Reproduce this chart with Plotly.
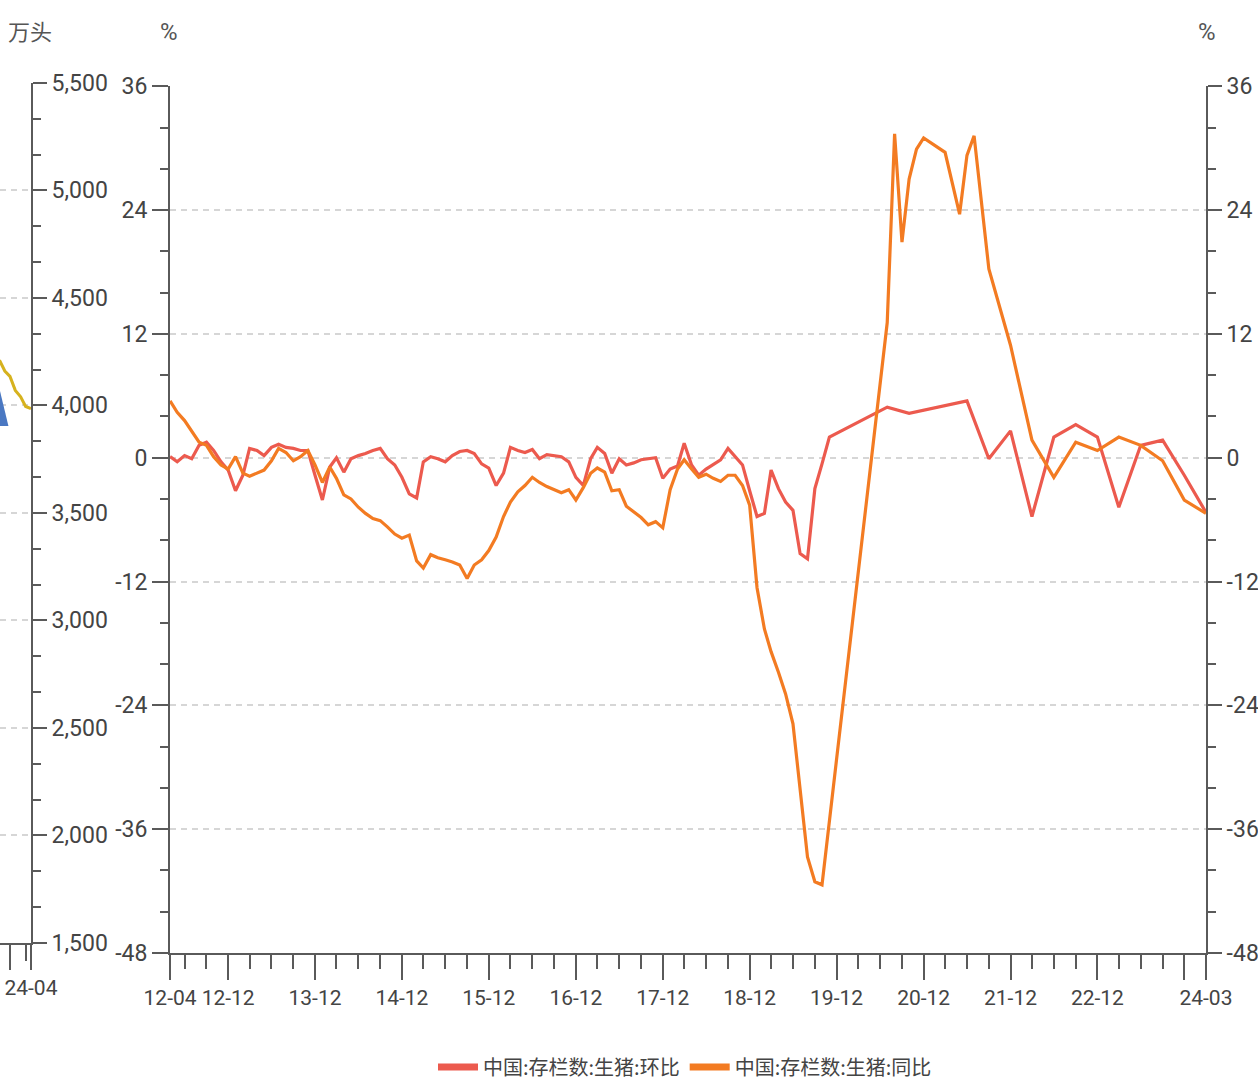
import pandas as pd
import plotly.graph_objects as go

# ---- data -------------------------------------------------------------
# month-on-month change of hog inventory (%), monthly from 2012-04 to 2019-11
hb_monthly = [
    0.1, -0.4, 0.2, -0.1, 1.2, 1.5, 0.7, -0.4, -1.2, -3.2,
    -1.7, 0.9, 0.7, 0.2, 1.0, 1.3, 1.0, 0.9, 0.7, 0.7,
    -1.7, -4.1, -0.9, 0.0, -1.4, -0.1, 0.2, 0.4, 0.7, 0.9,
    -0.1, -0.7, -1.9, -3.5, -3.9, -0.4, 0.1, -0.1, -0.4, 0.2,
    0.6, 0.7, 0.4, -0.6, -1.0, -2.7, -1.5, 1.0, 0.7, 0.5,
    0.8, -0.1, 0.3, 0.2, 0.1, -0.4, -1.9, -2.7, -0.1, 1.0,
    0.4, -1.5, -0.1, -0.7, -0.5, -0.2, -0.1, 0.0, -2.0, -1.1,
    -0.8, 1.4, -0.7, -1.7, -1.1, -0.7, -0.2, 0.9, 0.1, -0.7,
    -3.2, -5.7, -5.4, -1.2, -3.0, -4.3, -5.1, -9.3, -9.8, -3.0,
    -0.6, 2.0,
]
hb_later_months = ["2020-07", "2020-10", "2021-06", "2021-09", "2021-12",
                   "2022-03", "2022-06", "2022-09", "2022-12", "2023-03",
                   "2023-06", "2023-09", "2023-12", "2024-03"]
hb_later_vals = [4.9, 4.3, 5.5, -0.1, 2.6, -5.7, 2.0, 3.2, 2.0, -4.8,
                 1.2, 1.7, -1.7, -5.3]

# year-on-year change of hog inventory (%), monthly from 2012-04 to 2019-10
tb_monthly = [
    5.5, 4.4, 3.6, 2.5, 1.5, 1.2, 0.1, -0.7, -1.1, 0.1,
    -1.5, -1.8, -1.5, -1.2, -0.3, 0.9, 0.5, -0.3, 0.1, 0.7,
    -0.7, -2.4, -0.9, -2.0, -3.6, -4.0, -4.8, -5.4, -5.9, -6.1,
    -6.7, -7.4, -7.8, -7.5, -10.0, -10.7, -9.4, -9.7, -9.9, -10.1,
    -10.4, -11.7, -10.4, -9.9, -9.0, -7.7, -5.7, -4.3, -3.3, -2.7,
    -1.9, -2.4, -2.8, -3.1, -3.4, -3.1, -4.1, -2.9, -1.5, -1.0,
    -1.4, -3.2, -3.1, -4.7, -5.3, -5.8, -6.5, -6.2, -6.8, -3.1,
    -1.1, -0.2, -1.1, -1.9, -1.6, -2.0, -2.3, -1.7, -1.7, -2.7,
    -4.6, -12.6, -16.6, -18.8, -20.8, -22.9, -25.8, -32.3, -38.7, -41.1,
    -41.4,
]
tb_later_months = ["2020-07", "2020-08", "2020-09", "2020-10", "2020-11",
                   "2020-12", "2021-03", "2021-05", "2021-06", "2021-07",
                   "2021-09", "2021-12", "2022-03", "2022-06", "2022-09",
                   "2022-12", "2023-03", "2023-06", "2023-09", "2023-12",
                   "2024-03"]
tb_later_vals = [13.1, 31.4, 20.9, 27.0, 29.9, 31.0, 29.6, 23.6, 29.3, 31.2,
                 18.3, 10.9, 1.7, -1.9, 1.5, 0.7, 2.0, 1.2, -0.3, -4.1,
                 -5.4]

# neighbouring panel: breeding sow inventory (万头), tail end
sow_months = ["2023-10", "2023-11", "2023-12", "2024-01", "2024-02",
              "2024-03", "2024-04"]
sow_vals = [4210, 4160, 4135, 4070, 4040, 3995, 3985]

# blue pointer in the neighbouring panel (dates, 万头)
pointer_dates = ["2023-09-30", "2023-11-22", "2023-08-18", "2023-09-30"]
pointer_vals = [4080, 3904, 3904, 4080]

# tick labels
x_major_dates = ["2012-04"] + [f"{y}-12" for y in range(2012, 2024)] + ["2024-03"]
x_major_text = ["12-04"] + [f"{y % 100:02d}-12" for y in range(2012, 2023)] + ["", "24-03"]
y_ticks = [36, 24, 12, 0, -12, -24, -36, -48]
y_tick_text = ["36", "24", "12", "0", "-12", "-24", "-36", "-48"]
sow_ticks = [5500, 5000, 4500, 4000, 3500, 3000, 2500, 2000, 1500]

# ---- helpers ----------------------------------------------------------
def mdate(s):
    return pd.Timestamp(s + "-01")

start = pd.Timestamp("2012-04-01")
hb_x = [start + pd.DateOffset(months=i) for i in range(len(hb_monthly))] + [mdate(m) for m in hb_later_months]
hb_y = hb_monthly + hb_later_vals
tb_x = [start + pd.DateOffset(months=i) for i in range(len(tb_monthly))] + [mdate(m) for m in tb_later_months]
tb_y = tb_monthly + tb_later_vals

x_minor = [mdate(f"{y}-{m:02d}") for y in range(2012, 2024) for m in (3, 6, 9)
           if mdate(f"{y}-{m:02d}") > start]

RED = "#EC5A4E"
ORANGE = "#F37B22"
AX = "#5a5a5a"
GRID = "#d6d6d6"
NUM_FAMILY = "Roboto, sans-serif"
NUM_FONT = dict(family=NUM_FAMILY, size=23, color="#444444")
X_FONT = dict(family=NUM_FAMILY, size=21, color="#444444")
CJK = "Noto Sans CJK SC, sans-serif"

W, H = 1258, 1087
def px(x):
    return x / W
def py(y):
    return 1 - y / H

fig = go.Figure()

fig.add_trace(go.Scatter(x=hb_x, y=hb_y, mode="lines", line=dict(color=RED, width=3.2),
                         showlegend=False, xaxis="x", yaxis="y"))
fig.add_trace(go.Scatter(x=tb_x, y=tb_y, mode="lines", line=dict(color=ORANGE, width=3.2),
                         showlegend=False, xaxis="x", yaxis="y2"))
# legend entries
fig.add_trace(go.Scatter(x=[None], y=[None], mode="lines", line=dict(color=RED, width=7),
                         name="中国:存栏数:生猪:环比", xaxis="x", yaxis="y"))
fig.add_trace(go.Scatter(x=[None], y=[None], mode="lines", line=dict(color=ORANGE, width=7),
                         name="中国:存栏数:生猪:同比", xaxis="x", yaxis="y"))

# neighbouring panel
fig.add_trace(go.Scatter(x=[mdate(m) for m in sow_months], y=sow_vals, mode="lines",
                         line=dict(color="#D6B21E", width=3), showlegend=False,
                         xaxis="x2", yaxis="y3"))
fig.add_trace(go.Scatter(x=pointer_dates, y=pointer_vals, mode="lines", fill="toself",
                         fillcolor="#4A78C2", line=dict(color="#4A78C2", width=0),
                         showlegend=False, xaxis="x2", yaxis="y3"))

axis_common = dict(showline=True, linecolor=AX, linewidth=2, ticks="outside",
                   tickcolor=AX, tickwidth=2, automargin=False)

fig.update_layout(
    width=W, height=H,
    margin=dict(l=0, r=0, t=0, b=0),
    plot_bgcolor="white", paper_bgcolor="white",
    xaxis=dict(domain=[px(170), px(1206)], anchor="y", type="date",
               range=["2012-03-31 18:00", "2024-03-01 06:00"],
               tickmode="array", tickvals=[mdate(d) for d in x_major_dates],
               ticktext=x_major_text, tickangle=0, ticklen=25, tickfont=X_FONT,
               showgrid=False, zeroline=False,
               minor=dict(tickmode="array", tickvals=x_minor, ticklen=14,
                          ticks="outside", tickcolor=AX, tickwidth=2, showgrid=False),
               **axis_common),
    yaxis=dict(domain=[py(957.3), py(86.7)], anchor="x", range=[-48, 36],
               tickmode="array", tickvals=y_ticks, ticktext=y_tick_text, ticklen=16,
               tickfont=NUM_FONT,
               showgrid=True, gridcolor=GRID, gridwidth=2, griddash="6px,5px",
               zeroline=False,
               minor=dict(dtick=4, tick0=0, ticklen=8, ticks="outside",
                          tickcolor=AX, tickwidth=2, showgrid=False),
               **axis_common),
    yaxis2=dict(overlaying="y", side="right", anchor="x", range=[-48, 36],
                tickmode="array", tickvals=y_ticks, ticktext=y_tick_text, ticklen=14,
                tickfont=NUM_FONT,
                showgrid=False, zeroline=False,
                minor=dict(dtick=4, tick0=0, ticklen=8, ticks="outside",
                           tickcolor=AX, tickwidth=2, showgrid=False),
                **axis_common),
    xaxis2=dict(domain=[0, px(31)], anchor="y3", type="date",
                range=["2023-10-04", "2024-04-01 06:00"],
                tickmode="array", tickvals=["2023-12-01", "2024-04-01"],
                ticktext=["", "24-04"], tickangle=0, ticklen=25, tickfont=X_FONT,
                showgrid=False, zeroline=False,
                minor=dict(tickmode="array", tickvals=["2024-03-01"], ticklen=16,
                           ticks="outside", tickcolor=AX, tickwidth=2, showgrid=False),
                **axis_common),
    yaxis3=dict(domain=[py(947.3), py(83.3)], anchor="x2", side="right",
                range=[1500, 5500], tickmode="array", tickvals=sow_ticks,
                tickformat=",d", ticklen=14, tickfont=NUM_FONT,
                showgrid=True, gridcolor=GRID, gridwidth=2, griddash="6px,5px",
                zeroline=False,
                minor=dict(dtick=500 / 3, tick0=1500, ticklen=8, ticks="outside",
                           tickcolor=AX, tickwidth=2, showgrid=False),
                **axis_common),
    legend=dict(orientation="h", x=px(685), xanchor="center", y=py(1072), yanchor="middle",
                font=dict(family=CJK, size=20, color="#444444"), itemwidth=40,
                bgcolor="rgba(0,0,0,0)"),
    annotations=[
        dict(text="万头", x=px(30), y=py(30), xref="paper", yref="paper", showarrow=False,
             xanchor="center", yanchor="middle",
             font=dict(family=CJK, size=22, color="#555555")),
        dict(text="%", x=px(169), y=py(32), xref="paper", yref="paper", showarrow=False,
             xanchor="center", yanchor="middle",
             font=dict(family=NUM_FAMILY, size=24, color="#555555")),
        dict(text="%", x=px(1207), y=py(32), xref="paper", yref="paper", showarrow=False,
             xanchor="center", yanchor="middle",
             font=dict(family=NUM_FAMILY, size=24, color="#555555")),
    ],
)

fig.write_html("out.html")
